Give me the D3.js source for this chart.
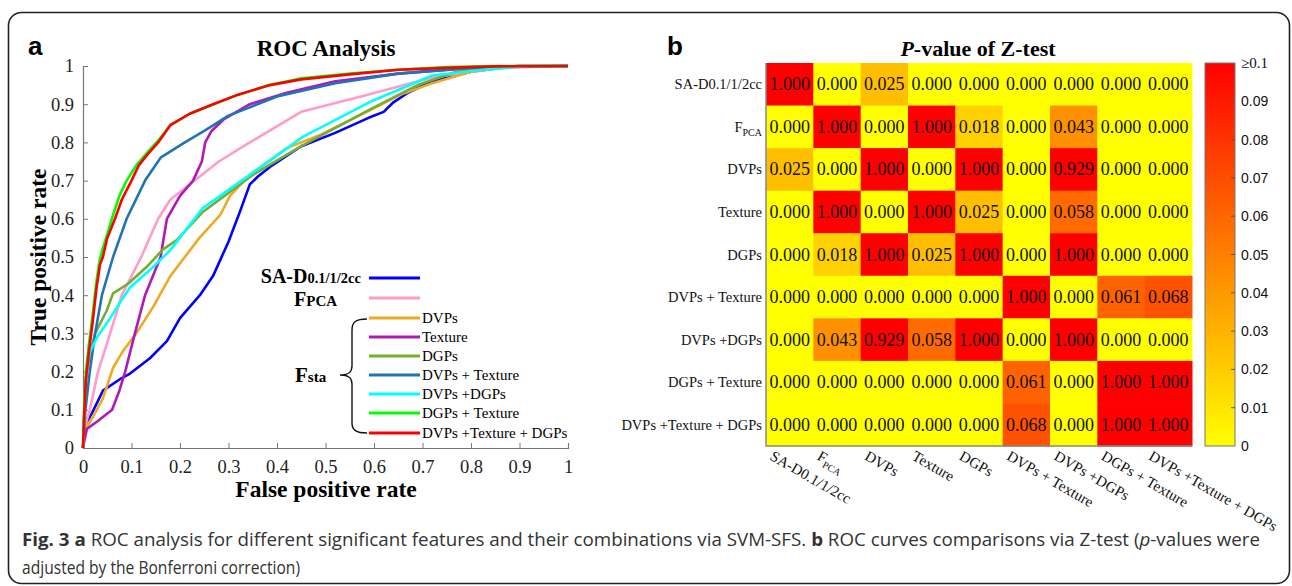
<!DOCTYPE html>
<html>
<head>
<meta charset="utf-8">
<script src="https://cdn.jsdelivr.net/npm/d3@7"></script>
<style>
  body { margin: 0; background: #fff; }
  svg { display: block; }
</style>
</head>
<body>
<div id="chart"></div>
<script>
// ROC curves, [fpr, tpr]
var rocNames = ['SA-D', 'FPCA', 'DVPs', 'Texture', 'DGPs', 'DVPs + Texture', 'DVPs +DGPs', 'DGPs + Texture', 'DVPs +Texture + DGPs'];
var rocColors = ['#0000ff', '#ff9cc8', '#eeaa22', '#b01ab8', '#77ac30', '#1f74b8', '#00ffff', '#00ff00', '#ff0000'];

var rocSAD = [[0,0],[0.004,0.06],[0.018,0.09],[0.041,0.15],[0.076,0.18],[0.097,0.195],[0.138,0.235],[0.173,0.28],[0.2,0.34],[0.241,0.4],[0.268,0.45],[0.3,0.54],[0.324,0.62],[0.344,0.69],[0.36,0.71],[0.39,0.74],[0.45,0.79],[0.52,0.825],[0.59,0.865],[0.62,0.88],[0.64,0.905],[0.67,0.93],[0.72,0.96],[0.8,0.985],[0.88,0.998],[1,1]];
var rocFPCA = [[0,0],[0.003,0.05],[0.014,0.1],[0.031,0.2],[0.056,0.3],[0.08,0.4],[0.12,0.5],[0.155,0.6],[0.18,0.65],[0.23,0.7],[0.28,0.75],[0.344,0.8],[0.41,0.85],[0.45,0.88],[0.585,0.924],[0.72,0.97],[0.86,0.995],[1,1]];
var rocDVPs = [[0,0],[0.003,0.03],[0.008,0.055],[0.02,0.08],[0.041,0.13],[0.062,0.21],[0.083,0.255],[0.11,0.3],[0.145,0.37],[0.18,0.45],[0.21,0.5],[0.24,0.55],[0.283,0.61],[0.303,0.66],[0.344,0.715],[0.42,0.785],[0.49,0.82],[0.585,0.88],[0.655,0.925],[0.72,0.955],[0.8,0.985],[0.88,0.998],[1,1]];
var rocTexture = [[0,0],[0.003,0.02],[0.008,0.05],[0.03,0.07],[0.06,0.1],[0.075,0.15],[0.087,0.2],[0.107,0.3],[0.128,0.4],[0.16,0.5],[0.173,0.6],[0.2,0.66],[0.227,0.7],[0.245,0.75],[0.252,0.8],[0.265,0.83],[0.29,0.86],[0.344,0.9],[0.42,0.93],[0.52,0.96],[0.65,0.98],[0.8,0.995],[0.9,1],[1,1]];
var rocDGPs = [[0,0],[0.003,0.12],[0.008,0.2],[0.015,0.25],[0.025,0.3],[0.049,0.36],[0.062,0.405],[0.093,0.43],[0.132,0.475],[0.165,0.52],[0.194,0.545],[0.247,0.618],[0.35,0.715],[0.45,0.79],[0.59,0.885],[0.69,0.95],[0.77,0.985],[0.85,0.998],[1,1]];
var rocDVPsTexture = [[0,0],[0.005,0.1],[0.014,0.2],[0.025,0.3],[0.039,0.4],[0.062,0.5],[0.09,0.6],[0.128,0.7],[0.16,0.76],[0.21,0.8],[0.25,0.83],[0.3,0.87],[0.4,0.92],[0.52,0.955],[0.65,0.98],[0.8,0.995],[0.9,1],[1,1]];
var rocDVPsDGPs = [[0,0],[0.003,0.1],[0.006,0.18],[0.01,0.23],[0.014,0.25],[0.029,0.29],[0.056,0.34],[0.076,0.38],[0.097,0.42],[0.138,0.466],[0.18,0.518],[0.247,0.628],[0.344,0.715],[0.454,0.815],[0.59,0.905],[0.72,0.975],[0.825,0.99],[0.92,1],[1,1]];
var rocDGPsTexture = [[0,0],[0.003,0.12],[0.006,0.2],[0.012,0.27],[0.02,0.35],[0.027,0.43],[0.034,0.49],[0.04,0.52],[0.05,0.56],[0.062,0.61],[0.075,0.66],[0.09,0.7],[0.11,0.74],[0.13,0.77],[0.155,0.805],[0.18,0.845],[0.22,0.875],[0.27,0.9],[0.32,0.925],[0.385,0.95],[0.45,0.968],[0.55,0.98],[0.65,0.99],[0.75,0.997],[0.85,1],[1,1]];
var rocAll = [[0,0],[0.003,0.1],[0.006,0.18],[0.012,0.25],[0.02,0.33],[0.028,0.42],[0.035,0.48],[0.041,0.5],[0.05,0.55],[0.066,0.6],[0.08,0.65],[0.1,0.7],[0.115,0.74],[0.134,0.77],[0.155,0.8],[0.18,0.845],[0.22,0.875],[0.268,0.9],[0.32,0.925],[0.385,0.95],[0.45,0.965],[0.55,0.978],[0.65,0.99],[0.75,0.995],[0.85,0.999],[1,1]];
var rocCurves = [rocSAD, rocFPCA, rocDVPs, rocTexture, rocDGPs, rocDVPsTexture, rocDVPsDGPs, rocDGPsTexture, rocAll];

var axisTicks = [0, 0.1, 0.2, 0.3, 0.4, 0.5, 0.6, 0.7, 0.8, 0.9, 1];

// heatmap of p-values
var features = ['SA-D0.1/1/2cc', 'FPCA', 'DVPs', 'Texture', 'DGPs', 'DVPs + Texture', 'DVPs +DGPs', 'DGPs + Texture', 'DVPs +Texture + DGPs'];
var pValues = [
  [1.000, 0.000, 0.025, 0.000, 0.000, 0.000, 0.000, 0.000, 0.000],
  [0.000, 1.000, 0.000, 1.000, 0.018, 0.000, 0.043, 0.000, 0.000],
  [0.025, 0.000, 1.000, 0.000, 1.000, 0.000, 0.929, 0.000, 0.000],
  [0.000, 1.000, 0.000, 1.000, 0.025, 0.000, 0.058, 0.000, 0.000],
  [0.000, 0.018, 1.000, 0.025, 1.000, 0.000, 1.000, 0.000, 0.000],
  [0.000, 0.000, 0.000, 0.000, 0.000, 1.000, 0.000, 0.061, 0.068],
  [0.000, 0.043, 0.929, 0.058, 1.000, 0.000, 1.000, 0.000, 0.000],
  [0.000, 0.000, 0.000, 0.000, 0.000, 0.061, 0.000, 1.000, 1.000],
  [0.000, 0.000, 0.000, 0.000, 0.000, 0.068, 0.000, 1.000, 1.000]
];
var barTicks = [0, 0.01, 0.02, 0.03, 0.04, 0.05, 0.06, 0.07, 0.08, 0.09, 0.1];

var W = 1292, H = 586;
var serif = '"Liberation Serif", "Times New Roman", serif';
var sans = '"Liberation Sans", Arial, sans-serif';

var svg = d3.select('#chart').append('svg')
  .attr('width', W)
  .attr('height', H);

// outer frame
svg.append('rect')
  .attr('x', 8.5).attr('y', 12.5)
  .attr('width', 1281).attr('height', 571)
  .attr('rx', 13)
  .style('fill', 'none')
  .style('stroke', '#222')
  .style('stroke-width', 1.6);

// ---------- panel a : ROC ----------
var x = d3.scaleLinear().domain([0, 1]).range([83, 568]);
var y = d3.scaleLinear().domain([0, 1]).range([448, 66]);

svg.append('text').attr('x', 28).attr('y', 55)
  .style('font-family', sans).style('font-weight', 'bold').style('font-size', '26px')
  .text('a');

svg.append('text').attr('x', 326).attr('y', 56)
  .attr('text-anchor', 'middle')
  .style('font-family', serif).style('font-weight', 'bold').style('font-size', '23px')
  .text('ROC Analysis');

var xAxis = svg.append('g')
  .attr('transform', 'translate(0,448)')
  .call(d3.axisBottom(x).tickValues(axisTicks).tickSize(-5).tickPadding(9)
    .tickFormat(function (d) { return d3.format('')(d); }));
var yAxis = svg.append('g')
  .attr('transform', 'translate(83,0)')
  .call(d3.axisLeft(y).tickValues(axisTicks).tickSize(-5).tickPadding(9)
    .tickFormat(function (d) { return d3.format('')(d); }));

[xAxis, yAxis].forEach(function (g) {
  g.select('.domain').style('stroke', '#777').style('stroke-width', 1.2);
  g.selectAll('.tick line').style('stroke', '#777');
  g.selectAll('.tick text')
    .style('font-family', serif).style('font-size', '18.5px').style('fill', '#222');
});
xAxis.selectAll('.tick text').attr('dy', '0.85em');

svg.append('text').attr('x', 326).attr('y', 497)
  .attr('text-anchor', 'middle')
  .style('font-family', serif).style('font-weight', 'bold').style('font-size', '23.5px')
  .text('False positive rate');

svg.append('text')
  .attr('transform', 'translate(46,257) rotate(-90)')
  .attr('text-anchor', 'middle')
  .style('font-family', serif).style('font-weight', 'bold').style('font-size', '23.5px')
  .text('True positive rate');

var line = d3.line()
  .x(function (d) { return x(d[0]); })
  .y(function (d) { return y(d[1]); });

svg.append('g').selectAll('path')
  .data(rocCurves)
  .enter()
  .append('path')
  .attr('d', line)
  .style('fill', 'none')
  .style('stroke', function (d, i) { return rocColors[i]; })
  .style('stroke-width', 2.6)
  .style('stroke-linejoin', 'round');

// legend
var legendY = [278, 298, 318, 337, 356, 375, 394, 413, 433];
var legend = svg.append('g');
legend.selectAll('line')
  .data(rocNames)
  .enter()
  .append('line')
  .attr('x1', 369).attr('x2', 420)
  .attr('y1', function (d, i) { return legendY[i]; })
  .attr('y2', function (d, i) { return legendY[i]; })
  .style('stroke', function (d, i) { return rocColors[i]; })
  .style('stroke-width', 3);

legend.selectAll('text.item')
  .data(rocNames.slice(2))
  .enter()
  .append('text')
  .attr('class', 'item')
  .attr('x', 422)
  .attr('y', function (d, i) { return legendY[i + 2] + 5; })
  .style('font-family', serif).style('font-size', '15px')
  .text(function (d) { return d; });

var t1 = legend.append('text').attr('x', 361).attr('y', 283)
  .attr('text-anchor', 'end')
  .style('font-family', serif).style('font-weight', 'bold');
t1.append('tspan').style('font-size', '20px').text('SA-D');
t1.append('tspan').style('font-size', '14.5px').text('0.1/1/2cc');

var t2 = legend.append('text').attr('x', 294).attr('y', 306)
  .style('font-family', serif).style('font-weight', 'bold');
t2.append('tspan').style('font-size', '20px').text('F');
t2.append('tspan').style('font-size', '15px').text('PCA');

var t3 = legend.append('text').attr('x', 295).attr('y', 382)
  .style('font-family', serif).style('font-weight', 'bold');
t3.append('tspan').style('font-size', '21px').text('F');
t3.append('tspan').style('font-size', '15px').text('sta');

// curly brace
legend.append('path')
  .attr('d', 'M367,319 C356,319 352,322 352,330 L352,366 C352,372 349,375 340,375 ' +
             'C349,375 352,378 352,384 L352,423 C352,430 356,433 367,433')
  .style('fill', 'none')
  .style('stroke', '#111')
  .style('stroke-width', 1.4);

// ---------- panel b : heatmap ----------
svg.append('text').attr('x', 667).attr('y', 55)
  .style('font-family', sans).style('font-weight', 'bold').style('font-size', '26px')
  .text('b');

var title = svg.append('text').attr('x', 978).attr('y', 56)
  .attr('text-anchor', 'middle')
  .style('font-family', serif).style('font-weight', 'bold').style('font-size', '22px');
title.append('tspan').style('font-style', 'italic').text('P');
title.append('tspan').text('-value of Z-test');

var cx = d3.scaleBand().domain(d3.range(features.length)).range([766, 1192]);
var cy = d3.scaleBand().domain(d3.range(features.length)).range([63, 446]);
var color = d3.scaleLinear().domain([0, 0.1]).range(['#ffff00', '#ff0000']).clamp(true);

var cells = [];
pValues.forEach(function (row, r) {
  row.forEach(function (v, c) { cells.push({ r: r, c: c, v: v }); });
});

var grid = svg.append('g');
grid.selectAll('rect')
  .data(cells)
  .enter()
  .append('rect')
  .attr('x', function (d) { return cx(d.c); })
  .attr('y', function (d) { return cy(d.r); })
  .attr('width', cx.bandwidth() + 0.5)
  .attr('height', cy.bandwidth() + 0.5)
  .style('fill', function (d) { return color(d.v); });

grid.selectAll('text')
  .data(cells)
  .enter()
  .append('text')
  .attr('x', function (d) { return cx(d.c) + cx.bandwidth() / 2; })
  .attr('y', function (d) { return cy(d.r) + cy.bandwidth() / 2 + 6; })
  .attr('text-anchor', 'middle')
  .style('font-family', serif).style('font-size', '18px').style('fill', '#111')
  .text(function (d) { return d3.format('.3f')(d.v); });

// left and bottom edges
svg.append('path')
  .attr('d', 'M766,63 L766,446 L1192,446')
  .style('fill', 'none').style('stroke', '#888').style('stroke-width', 1.5);

function featureLabel(sel, name, small) {
  if (name === 'FPCA') {
    sel.append('tspan').text('F');
    sel.append('tspan').attr('dy', 4).style('font-size', small).text('PCA');
  } else {
    sel.text(name);
  }
}

features.forEach(function (name, i) {
  var t = svg.append('text')
    .attr('x', 762)
    .attr('y', cy(i) + cy.bandwidth() / 2 + 5)
    .attr('text-anchor', 'end')
    .style('font-family', serif).style('font-size', '14.5px').style('fill', '#111');
  featureLabel(t, name, '10px');

  var b = svg.append('text')
    .attr('transform', 'translate(' + (cx(i) + 3) + ',459) rotate(30)')
    .style('font-family', serif).style('font-size', '15px').style('fill', '#111');
  featureLabel(b, name, '10px');
});

// colour bar
var bar = d3.scaleLinear().domain([0, 0.1]).range([446, 63]);
var defs = svg.append('defs');
var grad = defs.append('linearGradient').attr('id', 'pbar')
  .attr('x1', 0).attr('y1', 1).attr('x2', 0).attr('y2', 0);
grad.append('stop').attr('offset', 0).attr('stop-color', color(0));
grad.append('stop').attr('offset', 1).attr('stop-color', color(0.1));

svg.append('rect')
  .attr('x', 1205).attr('y', 63)
  .attr('width', 30).attr('height', 383)
  .style('fill', 'url(#pbar)')
  .style('stroke', '#777').style('stroke-width', 1);

svg.append('g').selectAll('line')
  .data(barTicks.slice(1, -1))
  .enter()
  .append('line')
  .attr('x1', 1231).attr('x2', 1235)
  .attr('y1', function (d) { return bar(d); })
  .attr('y2', function (d) { return bar(d); })
  .style('stroke', '#555');

svg.append('g').selectAll('text')
  .data(barTicks)
  .enter()
  .append('text')
  .attr('x', 1241)
  .attr('y', function (d) { return bar(d) + 5; })
  .style('font-family', function (d) { return d === 0.1 ? serif : sans; })
  .style('font-size', function (d) { return d === 0.1 ? '15px' : '14px'; })
  .style('fill', '#111')
  .text(function (d) { return d === 0.1 ? '\u22650.1' : d3.format('')(d); });

// caption
var cap = svg.append('g')
  .style('font-family', '"Liberation Sans Narrow", "Open Sans", sans-serif')
  .style('font-size', '18px').style('fill', '#333');
var c1 = cap.append('text').attr('x', 22).attr('y', 546)
  .attr('textLength', 1238).attr('lengthAdjust', 'spacingAndGlyphs');
c1.append('tspan').style('font-weight', 'bold').text('Fig. 3 a');
c1.append('tspan').text(' ROC analysis for different significant features and their combinations via SVM-SFS. ');
c1.append('tspan').style('font-weight', 'bold').text('b');
c1.append('tspan').text(' ROC curves comparisons via Z-test (');
c1.append('tspan').style('font-style', 'italic').text('p');
c1.append('tspan').text('-values were');
cap.append('text').attr('x', 22).attr('y', 574)
  .attr('textLength', 278).attr('lengthAdjust', 'spacingAndGlyphs')
  .text('adjusted by the Bonferroni correction)');
</script>
</body>
</html>
